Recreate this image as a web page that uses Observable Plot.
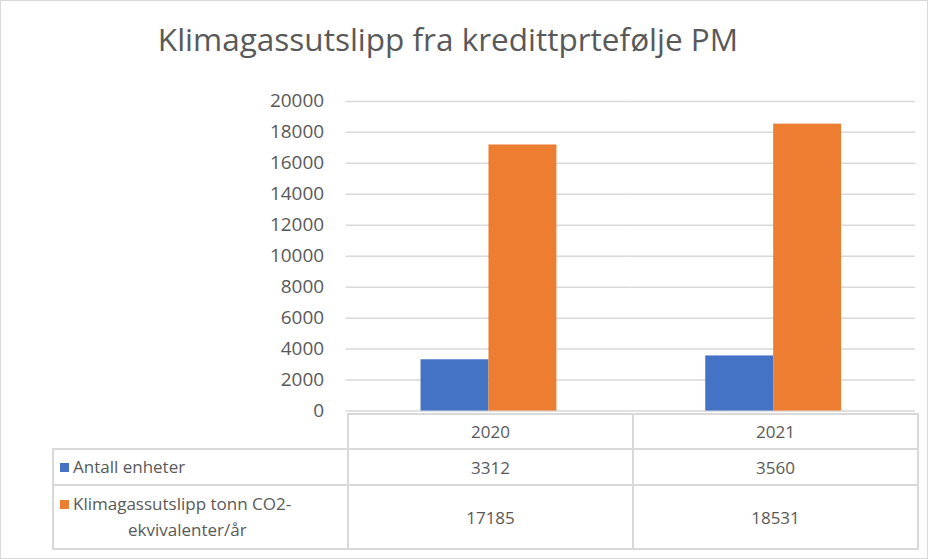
<!DOCTYPE html>
<html><head><meta charset="utf-8">
<script src="https://cdn.jsdelivr.net/npm/d3@7"></script>
<script src="https://cdn.jsdelivr.net/npm/@observablehq/plot@0.6"></script>
<style>
body{margin:0;background:#fff;font-family:"Open Sans",sans-serif;}
#wrap{position:relative;width:926px;height:557px;border:1px solid #d9d9d9;overflow:hidden;}
#title{position:absolute;top:16px;left:0;width:894px;text-align:center;font-size:31.5px;color:#595959;}
#chart{position:absolute;left:-1px;top:-1px;}
table{position:absolute;left:51px;top:412px;border-collapse:collapse;font-size:17px;color:#595959;}
td{border:2px solid #d9d9d9;text-align:center;padding:0;}
td.lab{text-align:left;padding-left:6px;line-height:26px;}
.sq{display:inline-block;width:9px;height:9px;margin-right:4px;vertical-align:1px;}
.l2{display:inline-block;padding-left:68px;}
</style></head>
<body><div id="wrap"><div id="title"></div><div id="chart"></div><table id="tbl"></table></div>
<script>
const titleText = "Klimagassutslipp fra kredittprtefølje PM";
const years = ["2020", "2021"];
const seriesNames = ["Antall enheter", "Klimagassutslipp tonn CO2-ekvivalenter/år"];
const seriesLabels = [["Antall enheter"], ["Klimagassutslipp tonn CO2-", "ekvivalenter/år"]];
const antall = [3312, 3560];
const utslipp = [17185, 18531];
const colors = ["#4472C4", "#ED7D31"];
const yTicks = [0,2000,4000,6000,8000,10000,12000,14000,16000,18000,20000];

document.getElementById("title").textContent = titleText;
const values = [antall, utslipp];
const data = [];
years.forEach((yr, i) => seriesNames.forEach((s, j) => data.push({year: yr, series: s, value: values[j][i]})));

const plot = Plot.plot({
  width: 928, height: 432,
  marginLeft: 346, marginRight: 12, marginTop: 101, marginBottom: 21,
  style: {fontFamily: "Open Sans", fontSize: "19px", color: "#595959", background: "transparent"},
  fx: {domain: years, padding: 0, axis: null},
  x: {domain: seriesNames, paddingInner: 0, paddingOuter: 1.09, axis: null},
  y: {domain: [0, 20000], ticks: yTicks, tickFormat: d => String(d), tickSize: 0, tickPadding: 22, label: null},
  color: {domain: seriesNames, range: colors},
  facet: {data, x: "year"},
  marks: [
    Plot.ruleY(yTicks, {stroke: "#d9d9d9", strokeWidth: 1.5, strokeOpacity: 1}),
    Plot.barY(data, {x: "series", y: "value", fill: "series", insetLeft: 0, insetRight: 0})
  ]
});
document.getElementById("chart").appendChild(plot);

const tbl = document.getElementById("tbl");
let html = `<tr style="height:35px"><td style="border:none;border-right:2px solid #d9d9d9;width:294px"></td>` +
  years.map(y => `<td style="width:283px">${y}</td>`).join("") + `</tr>`;
seriesLabels.forEach((lab, j) => {
  const labHtml = lab.map((t, k) => k === 0 ? `<span class="sq" style="background:${colors[j]}"></span>${t}` : `<span class="l2">${t}</span>`).join("<br>");
  html += `<tr style="height:${j === 0 ? 36 : 64}px"><td class="lab">${labHtml}</td>` +
    values[j].map(v => `<td>${v}</td>`).join("") + `</tr>`;
});
tbl.innerHTML = html;
</script></body></html>
